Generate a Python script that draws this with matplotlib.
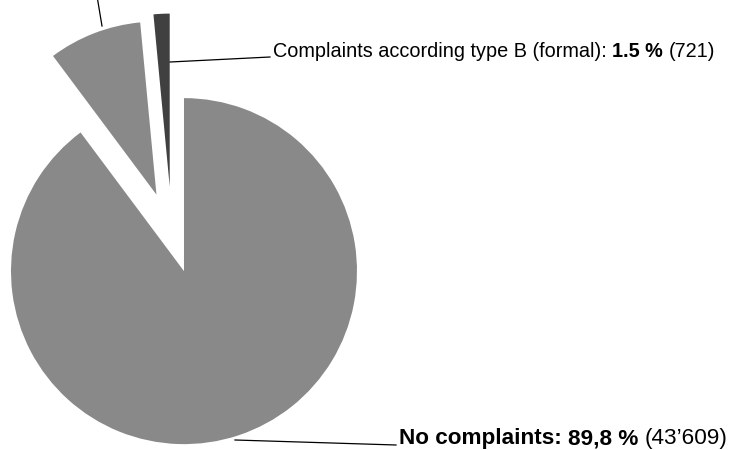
import matplotlib.pyplot as plt

# Share of cases (percent) and absolute counts
categories = ['No complaints', 'Complaints according type A', 'Complaints according type B (formal)']
shares = [89.8, 8.7, 1.5]
counts = [43609, None, 721]

colors = ['#898989', '#898989', '#404040']
explode = [0.22, 0.25, 0.28]   # fraction of radius

W, H = 739, 450
RADIUS = 173
CENTER = (172, H - 235)


def px(x, y):
    # pixel position (top-left origin) -> data coords
    return x, H - y


def fmt_count(n):
    return f'{n:,}'.replace(',', '\u2019')


def rich_text(ax, x, y, parts, size):
    """Draw consecutive text pieces (text, bold) on one baseline."""
    fig = ax.figure
    renderer = fig.canvas.get_renderer()
    space = size * 100 / 72 * 0.278
    cur = x
    for s, bold in parts:
        t = ax.text(cur, y, s, fontsize=size, fontweight='bold' if bold else 'normal',
                    ha='left', va='baseline', family=['Liberation Sans', 'DejaVu Sans'])
        bb = t.get_window_extent(renderer)
        inv = ax.transData.inverted()
        cur = inv.transform((bb.x1, bb.y0))[0] + space


def generate_pie():
    fig = plt.figure(figsize=(W / 100, H / 100), dpi=100)
    ax = fig.add_axes([0, 0, 1, 1])

    ax.pie(shares, colors=colors, startangle=90, counterclock=False,
           explode=[e * RADIUS for e in explode], radius=RADIUS, center=CENTER,
           wedgeprops=dict(linewidth=0))
    ax.set_xlim(0, W)
    ax.set_ylim(0, H)
    ax.set_aspect('auto')
    ax.axis('off')

    # leader lines
    line_kw = dict(color='black', linewidth=0.9, clip_on=False)
    ax.plot(*zip(px(170, 62), px(270, 57)), **line_kw)
    ax.plot(*zip(px(235, 440), px(396, 445)), **line_kw)
    ax.plot(*zip(px(102, 26), px(96, -10)), **line_kw)

    # labels
    rich_text(ax, *px(273, 57), [
        (f'{categories[2]}:', False),
        (f'{shares[2]:.1f} %', True),
        (f'({fmt_count(counts[2])})', False),
    ], 14.3)
    rich_text(ax, *px(399, 444), [
        (f'{categories[0]}:', True),
        (f'{shares[0]:.1f} %'.replace('.', ','), True),
        (f'({fmt_count(counts[0])})', False),
    ], 16.2)

    fig.savefig('out.png', dpi=100)


if __name__ == '__main__':
    generate_pie()
